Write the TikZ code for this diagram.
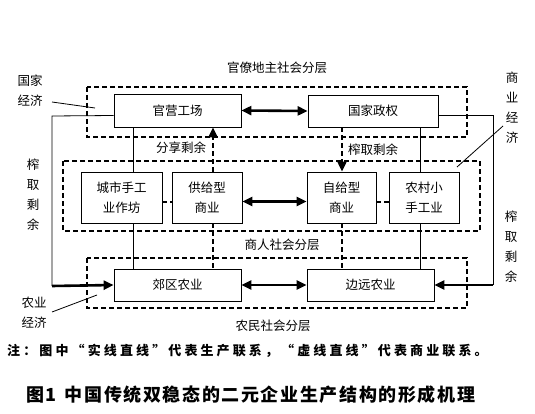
\documentclass[tikz,border=0pt]{standalone}
\usepackage{fontspec}
\setmainfont{Noto Sans CJK SC}
\usetikzlibrary{arrows.meta}
\tikzset{
  box/.style={draw, line width=0.8pt, inner sep=0pt, align=center, font=\fontsize{12.5}{20}\selectfont},
  layer/.style={draw, line width=1.8pt, dash pattern=on 5pt off 3pt},
  lbl/.style={inner sep=0pt, align=center, font=\fontsize{12.5}{20}\selectfont},
  prod/.style={line width=0.8pt},
  trade/.style={line width=2pt, dash pattern=on 5pt off 3pt},
  bold/.style={line width=2.6pt},
  tip/.style={-{Triangle[length=10pt,width=9pt]}},
  tips/.style={{Triangle[length=10pt,width=9pt]}-{Triangle[length=10pt,width=9pt]}},
}
\begin{document}
\begin{tikzpicture}[x=1pt,y=-1pt]
\useasboundingbox (0,0) rectangle (535,414);
% layers
\draw[layer] (87,87) rectangle (467,137);
\draw[layer] (63,161) rectangle (480,231);
\draw[layer] (87,258) rectangle (467,308);
% boxes
\node[box, minimum width=127pt, minimum height=33pt, fill=white] (gy) at (177.5,110.5) {官营工场};
\node[box, minimum width=130pt, minimum height=32pt, fill=white] (gj) at (373,111) {国家政权};
\node[box, minimum width=81pt, minimum height=51pt, fill=white] (cs) at (121.5,197.5) {城市手工\\业作坊};
\node[box, minimum width=70pt, minimum height=51pt, fill=white] (gg) at (207,197.5) {供给型\\商业};
\node[box, minimum width=69pt, minimum height=51pt, fill=white] (zg) at (341.5,197.5) {自给型\\商业};
\node[box, minimum width=70pt, minimum height=51pt, fill=white] (nc) at (424,197.5) {农村小\\手工业};
\node[box, minimum width=127pt, minimum height=32pt, fill=white] (jq) at (177.5,285) {郊区农业};
\node[box, minimum width=127pt, minimum height=32pt, fill=white] (by) at (370.5,285) {边远农业};
% labels
\node[lbl] (t1) at (277,68) {官僚地主社会分层};
\node[lbl] (t2) at (181,148) {分享剩余};
\node[lbl] (t3) at (373,150) {榨取剩余};
\node[lbl] (t4) at (282,245) {商人社会分层};
\node[lbl] (t5) at (273,326) {农民社会分层};
\node[lbl] (gjjj) at (30,91) {国家\\经济};
\node[lbl] (nyjj) at (34,313) {农业\\经济};
\node[lbl] (zql) at (33,195) {榨\\取\\剩\\余};
\node[lbl] (zqr) at (511,247) {榨\\取\\剩\\余};
\node[lbl] (syjj) at (512,108) {商\\业\\经\\济};
% leader lines
\coordinate (g1) at (52,102); \coordinate (g2) at (95,108);
\coordinate (n1) at (52,312); \coordinate (n2) at (97,295);
\coordinate (s1) at (503,126); \coordinate (s2) at (457,167);
\draw[prod] (g1) -- (g2);
\draw[prod] (n1) -- (n2);
\draw[prod] (s1) -- (s2);
% x positions of vertical links
\coordinate (xa) at (133,0);
\coordinate (xd) at (213,0);
\coordinate (xe) at (342,0);
\coordinate (xb) at (420,0);
% production links
\draw[prod] (gy.south -| xa) -- (cs.north -| xa);
\draw[prod] (cs.south -| xa) -- (jq.north -| xa);
\draw[prod] (gj.south -| xb) -- (nc.north -| xb);
\draw[prod] (nc.south -| xb) -- (by.north -| xb);
% trade links
\draw[trade, tip] (gg.north -| xd) -- (gy.south -| xd);
\draw[trade] (gg.south -| xd) -- (jq.north -| xd);
\draw[trade, tip] (gj.south -| xe) -- (zg.north -| xe);
\draw[trade] (zg.south -| xe) -- (by.north -| xe);
\draw[trade] ([yshift=-4pt]cs.east) -- ([yshift=-4pt]gg.west);
\draw[trade] ([yshift=-4pt]zg.east) -- ([yshift=-4pt]nc.west);
% double arrows
\draw[bold, tips] (gy.east) -- (gj.west);
\draw[bold, tips] ([yshift=-4pt]gg.east) -- ([yshift=-4pt]zg.west);
\draw[bold, tips] (jq.east) -- (by.west);
% extraction loops
\coordinate (cl1) at (52,116); \coordinate (cl2) at (52,286);
\coordinate (cr1) at (493,115); \coordinate (cr2) at (493,285);
\draw[prod] ([yshift=-5pt]gy.west) -- (cl1) -- (cl2);
\draw[bold, tip] (cl2) -- (jq.west);
\draw[prod] ([yshift=-4pt]gj.east) -- (cr1) -- (cr2);
\draw[bold, tip] (cr2) -- (by.east);
% note and caption
\node[inner sep=0pt, font=\bfseries\fontsize{13}{15}\selectfont, anchor=west] (note) at (7,351) {\addfontfeature{LetterSpace=24}注：图中“实线直线”代表生产联系，“虚线直线”代表商业联系。};
\node[inner sep=0pt, font=\bfseries\fontsize{18}{20}\selectfont, anchor=west] (cap) at (26,395) {\addfontfeature{LetterSpace=9}图1\hspace{8pt}中国传统双稳态的二元企业生产结构的形成机理};
\end{tikzpicture}
\end{document}
